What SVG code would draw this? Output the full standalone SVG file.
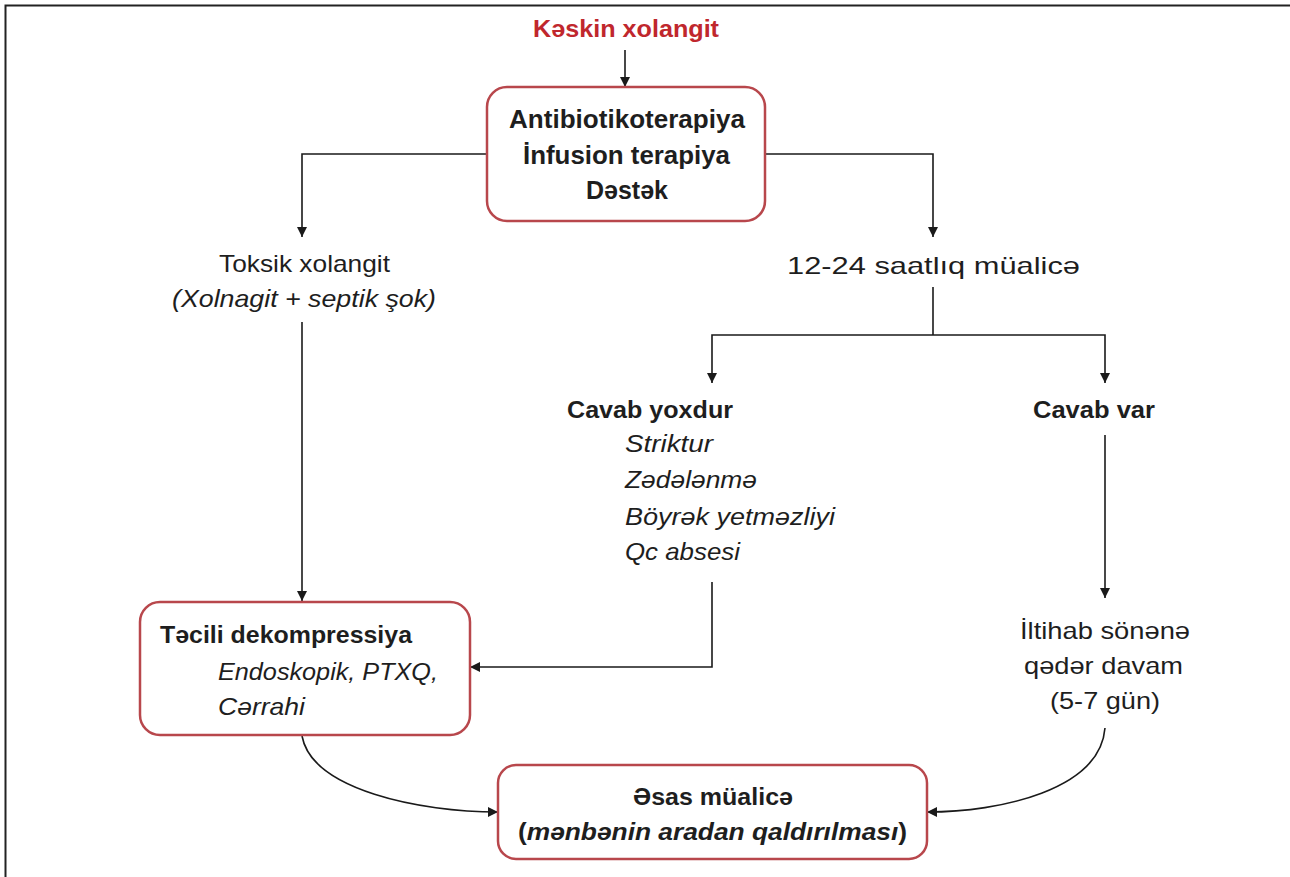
<svg xmlns="http://www.w3.org/2000/svg" width="1290" height="877" viewBox="0 0 1290 877">
<style>
  .box { fill: #fff; stroke: #b8474c; stroke-width: 2.5; }
  .t { font-family: "Liberation Sans", Arial, sans-serif; font-size: 24px; fill: #1e1e1e; }
  .b { font-weight: bold; }
  .i { font-style: italic; }
  .c { text-anchor: middle; }
  .red { fill: #c0272d; }
  .ln { fill: none; stroke: #1a1a1a; stroke-width: 1.6; }
</style>
<defs>
  <marker id="ah" viewBox="0 0 10 10" refX="10" refY="5" markerWidth="10" markerHeight="10" markerUnits="userSpaceOnUse" orient="auto">
    <path d="M0,0 L10,5 L0,10 Z" fill="#1a1a1a"/>
  </marker>
</defs>
<rect x="0" y="0" width="1290" height="877" fill="#fff"/>
<path d="M5.5,877 V5.5 H1290" fill="none" stroke="#222" stroke-width="2"/>

<g id="connectors">
  <path class="ln" d="M625,50 V87" marker-end="url(#ah)"/>
  <path class="ln" d="M487,154 H302 V237" marker-end="url(#ah)"/>
  <path class="ln" d="M765,154 H933 V237" marker-end="url(#ah)"/>
  <path class="ln" d="M302,322 V601" marker-end="url(#ah)"/>
  <path class="ln" d="M933,287 V335"/>
  <path class="ln" d="M933,335 H712 V383" marker-end="url(#ah)"/>
  <path class="ln" d="M933,335 H1105 V383" marker-end="url(#ah)"/>
  <path class="ln" d="M712,582 V667 H470" marker-end="url(#ah)"/>
  <path class="ln" d="M1105,435 V598" marker-end="url(#ah)"/>
  <path class="ln" d="M302,736 C312,790 420,812 498,812" marker-end="url(#ah)"/>
  <path class="ln" d="M1105,728 C1100,790 1000,812 927,812" marker-end="url(#ah)"/>
</g>

<g id="start">
  <text class="t b red" x="533" y="37" textLength="186" lengthAdjust="spacingAndGlyphs">Kəskin xolangit</text>
</g>

<g id="therapy">
  <rect class="box" x="487" y="87" width="278" height="134" rx="20"/>
  <text class="t b" x="509" y="128" style="font-size:25px" textLength="236" lengthAdjust="spacingAndGlyphs">Antibiotikoterapiya</text>
  <text class="t b" x="523" y="164" style="font-size:25px" textLength="207" lengthAdjust="spacingAndGlyphs">İnfusion terapiya</text>
  <text class="t b" x="586" y="199" style="font-size:25px" textLength="82" lengthAdjust="spacingAndGlyphs">Dəstək</text>
</g>

<g id="toxic">
  <text class="t" x="219" y="272" textLength="171" lengthAdjust="spacingAndGlyphs">Toksik xolangit</text>
  <text class="t i" x="172" y="307" textLength="264" lengthAdjust="spacingAndGlyphs">(Xolnagit + septik şok)</text>
</g>

<g id="hours">
  <text class="t" x="787" y="274" textLength="293" lengthAdjust="spacingAndGlyphs">12-24 saatlıq müalicə</text>
</g>

<g id="no-response">
  <text class="t b" x="567" y="418" textLength="166" lengthAdjust="spacingAndGlyphs">Cavab yoxdur</text>
  <text class="t i" x="625" y="452" textLength="88" lengthAdjust="spacingAndGlyphs">Striktur</text>
  <text class="t i" x="625" y="488" textLength="132" lengthAdjust="spacingAndGlyphs">Zədələnmə</text>
  <text class="t i" x="625" y="525" textLength="210" lengthAdjust="spacingAndGlyphs">Böyrək yetməzliyi</text>
  <text class="t i" x="625" y="560" textLength="115" lengthAdjust="spacingAndGlyphs">Qc absesi</text>
</g>

<g id="response">
  <text class="t b" x="1033" y="418" textLength="122" lengthAdjust="spacingAndGlyphs">Cavab var</text>
</g>

<g id="continue">
  <text class="t" x="1020" y="639" textLength="170" lengthAdjust="spacingAndGlyphs">İltihab sönənə</text>
  <text class="t" x="1024" y="674" textLength="159" lengthAdjust="spacingAndGlyphs">qədər davam</text>
  <text class="t" x="1050" y="709" textLength="110" lengthAdjust="spacingAndGlyphs">(5-7 gün)</text>
</g>

<g id="decompression">
  <rect class="box" x="140" y="602" width="330" height="133" rx="20"/>
  <text class="t b" x="160" y="643" textLength="252" lengthAdjust="spacingAndGlyphs">Təcili dekompressiya</text>
  <text class="t i" x="218" y="680" textLength="220" lengthAdjust="spacingAndGlyphs">Endoskopik, PTXQ,</text>
  <text class="t i" x="218" y="715" textLength="87" lengthAdjust="spacingAndGlyphs">Cərrahi</text>
</g>

<g id="main-treatment">
  <rect class="box" x="498" y="765" width="429" height="94" rx="18"/>
  <text class="t b" x="633" y="805" textLength="160" lengthAdjust="spacingAndGlyphs">Əsas müalicə</text>
  <text class="t b" x="518" y="840" textLength="389" lengthAdjust="spacingAndGlyphs">(<tspan class="i">mənbənin aradan qaldırılması</tspan>)</text>
</g>
</svg>
